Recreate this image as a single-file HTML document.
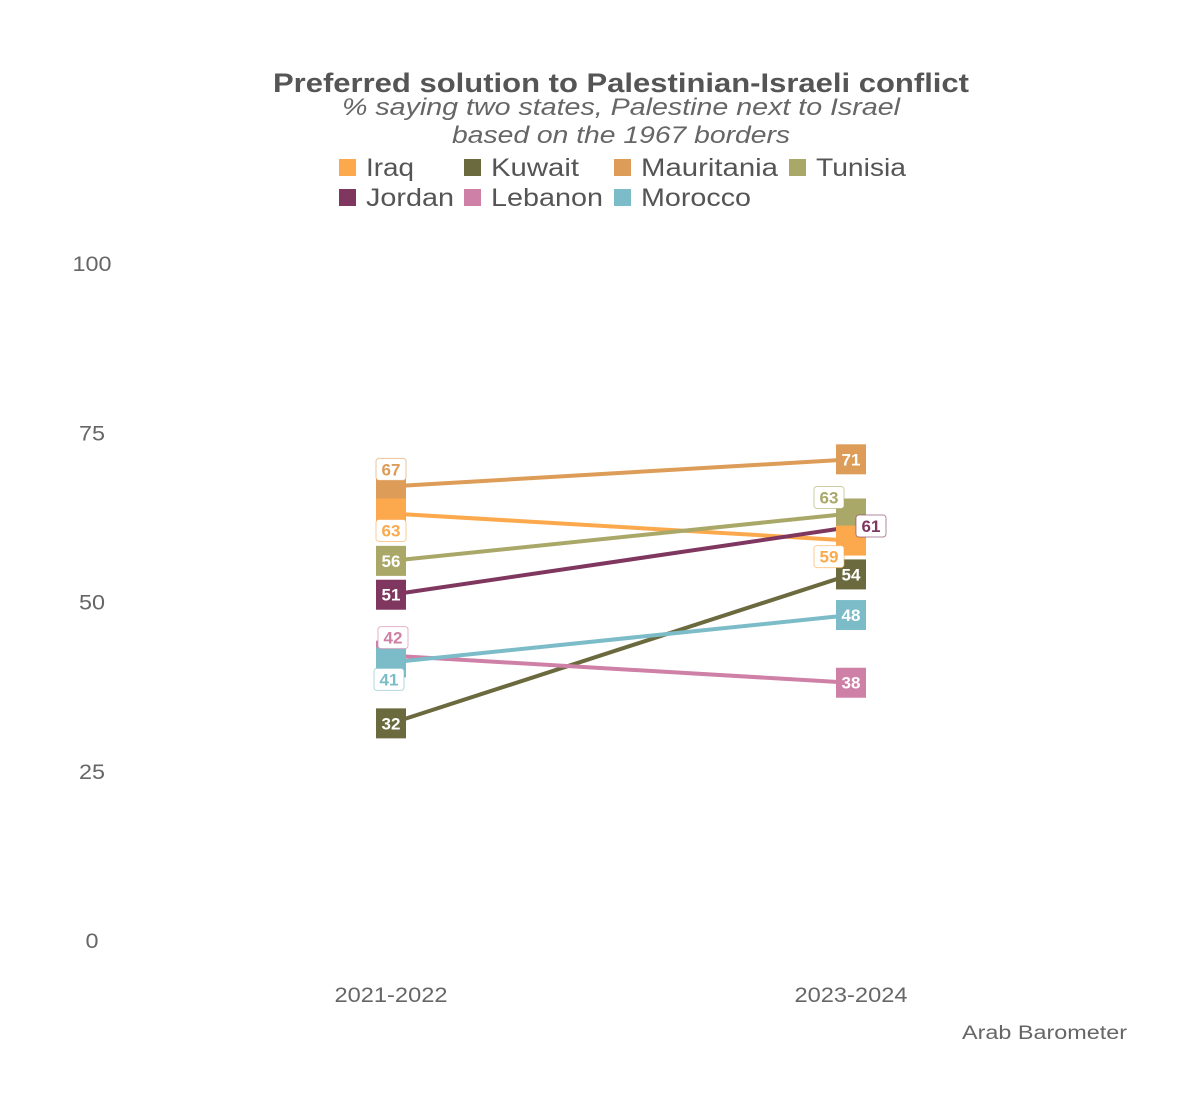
<!DOCTYPE html>
<html><head><meta charset="utf-8"><style>
body{margin:0;background:#fff;}
svg{display:block;font-family:"Liberation Sans",sans-serif;}
</style></head><body>
<svg id="chart" width="1200" height="1108">
<text x="621" y="92" text-anchor="middle" font-size="27" font-weight="bold" fill="#555" textLength="696" lengthAdjust="spacingAndGlyphs">Preferred solution to Palestinian-Israeli conflict</text>
<text x="621" y="115" text-anchor="middle" font-size="24" font-style="italic" fill="#666" textLength="558" lengthAdjust="spacingAndGlyphs">% saying two states, Palestine next to Israel</text>
<text x="621" y="143" text-anchor="middle" font-size="24" font-style="italic" fill="#666" textLength="338" lengthAdjust="spacingAndGlyphs">based on the 1967 borders</text>
<g id="legend"></g>
<g id="yaxis"></g>
<g id="xaxis"></g>
<g id="lines"></g>
<g id="marks"></g>
<text x="1127" y="1039" text-anchor="end" font-size="19" fill="#666" textLength="165" lengthAdjust="spacingAndGlyphs">Arab Barometer</text>
</svg>
<script>
const periods = ["2021-2022","2023-2024"];
const countries = ["Mauritania","Iraq","Tunisia","Jordan","Kuwait","Lebanon","Morocco"];
const colors = ["#dd9c57","#fba94c","#a9a868","#7f3760","#6b6a3e","#cf80a6","#7bbcc8"];
const valuesStart = [67,63,56,51,32,42,41];
const valuesEnd = [71,59,63,61,54,38,48];
const yTicks = [0,25,50,75,100];
const legendOrder = ["Iraq","Kuwait","Mauritania","Tunisia","Jordan","Lebanon","Morocco"];
const NS="http://www.w3.org/2000/svg";
const y = v => 940 - v*6.77;
const x = i => 391 + i*460;
function mk(tag,attrs,parent){const e=document.createElementNS(NS,tag);for(const k in attrs)e.setAttribute(k,attrs[k]);parent.appendChild(e);return e;}
const yaxis=document.getElementById('yaxis');
yTicks.forEach(t=>{const e=mk('text',{x:92,y:y(t)+8,'text-anchor':'middle','font-size':21,fill:'#666',textLength:String(t).length*13,lengthAdjust:'spacingAndGlyphs'},yaxis);e.textContent=t;

});
const xaxis=document.getElementById('xaxis');
periods.forEach((p,i)=>{const e=mk('text',{x:x(i),y:1002,'text-anchor':'middle','font-size':21,fill:'#666',textLength:113,lengthAdjust:'spacingAndGlyphs'},xaxis);e.textContent=p;

});
const legend=document.getElementById('legend');
const lx=[339,464,614,789],ly=[167,197];
const legLen={"Iraq":48,"Kuwait":88,"Mauritania":137,"Tunisia":90,"Jordan":88,"Lebanon":112,"Morocco":110};
legendOrder.forEach((c,i)=>{const ci=countries.indexOf(c);const gx=lx[i%4],gy=ly[Math.floor(i/4)];
const g=mk('g',{},legend);


mk('rect',{x:gx,y:gy-8,width:17,height:17,fill:colors[ci]},g);
const t=mk('text',{x:gx+27,y:gy+9,'font-size':25,fill:'#555',textLength:legLen[c],lengthAdjust:'spacingAndGlyphs'},g);t.textContent=c;});
const lines=document.getElementById('lines'),marks=document.getElementById('marks');
countries.forEach((c,i)=>{const l=mk('line',{x1:x(0),y1:y(valuesStart[i]),x2:x(1),y2:y(valuesEnd[i]),stroke:colors[i],'stroke-width':4},lines);

});
const drawOrder=["Lebanon","Morocco","Kuwait","Jordan","Tunisia","Mauritania","Iraq"];
const offsets={"Mauritania":[[0,-17],[0,0]],"Iraq":[[0,17],[-22,16]],"Tunisia":[[0,0],[-22,-16]],"Jordan":[[0,0],[20,-1]],"Kuwait":[[0,0],[0,0]],"Lebanon":[[2,-18],[0,0]],"Morocco":[[-2,17],[0,0]]};
const labels=[];
drawOrder.forEach(c=>{const i=countries.indexOf(c);[valuesStart[i],valuesEnd[i]].forEach((v,p)=>{
const r=mk('rect',{x:x(p)-15,y:y(v)-15,width:30,height:30,fill:colors[i]},marks);


labels.push([c,i,v,p]);});});
labels.forEach(([c,i,v,p])=>{const o=offsets[c][p];const cx=x(p)+o[0],cy=y(v)+o[1];const out=o[0]||o[1];
if(out){mk('rect',{x:cx-15,y:cy-11,width:30,height:22,rx:3,fill:'#fff',stroke:colors[i],'stroke-opacity':0.6,'stroke-width':1},marks);}
const t=mk('text',{x:cx,y:cy+6,'text-anchor':'middle','font-size':17,'font-weight':'bold',fill:out?colors[i]:'#fff'},marks);t.textContent=v;

});
</script>
</body></html>
